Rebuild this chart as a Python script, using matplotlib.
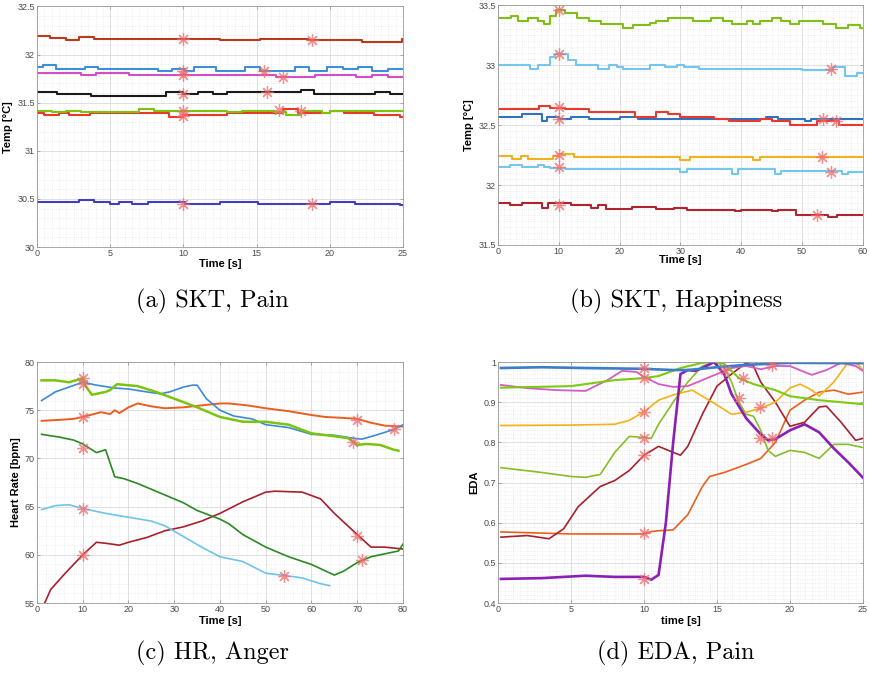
import matplotlib
matplotlib.use("Agg")
import matplotlib.pyplot as plt
from matplotlib.ticker import AutoMinorLocator, MultipleLocator, FuncFormatter

plt.rcParams['font.family'] = ['Liberation Sans', 'DejaVu Sans']

# ---------------- (a) SKT, Pain : step-like traces (change time, level)
a_brown_t = [0, 0.9, 2.0, 2.9, 3.9, 12.5, 15.2, 18.5, 22.2, 24.9, 25]
a_brown_v = [32.19, 32.17, 32.15, 32.185, 32.165, 32.155, 32.165, 32.15, 32.13, 32.16, 32.16]
a_blue_t = [0, 0.4, 1.3, 3.3, 4.2, 8.3, 9.2, 10.1, 10.7, 12.2, 14.2, 15.2, 17.6, 18.6, 19.8, 20.9, 21.9, 22.9, 24.0, 25]
a_blue_v = [31.87, 31.89, 31.85, 31.87, 31.85, 31.83, 31.85, 31.83, 31.87, 31.83, 31.87, 31.83, 31.87,
            31.83, 31.87, 31.85, 31.87, 31.83, 31.85, 31.85]
a_mag_t = [0, 3.0, 4.0, 6.3, 16.3, 19.0, 21.8, 22.9, 24.0, 25]
a_mag_v = [31.81, 31.79, 31.81, 31.79, 31.77, 31.79, 31.77, 31.79, 31.77, 31.77]
a_black_t = [0, 1.4, 3.7, 8.8, 10.0, 11.0, 12.0, 13.0, 18.0, 18.9, 23.1, 24.1, 25]
a_black_v = [31.61, 31.59, 31.57, 31.61, 31.59, 31.61, 31.59, 31.61, 31.63, 31.59, 31.61, 31.59, 31.59]
a_green_t = [0, 1.0, 2.0, 3.0, 7.0, 8.0, 13.0, 14.0, 16.2, 17.0, 18.0, 19.5, 20.0, 25]
a_green_v = [31.41, 31.40, 31.41, 31.40, 31.43, 31.41, 31.40, 31.41, 31.40, 31.37, 31.41, 31.39, 31.41, 31.41]
a_red_t = [0, 0.5, 1.5, 2.2, 3.6, 9.0, 10.0, 13.0, 16.8, 17.8, 20.0, 21.0, 23.0, 24.8, 25]
a_red_v = [31.39, 31.37, 31.39, 31.37, 31.39, 31.35, 31.37, 31.39, 31.43, 31.39, 31.41, 31.39, 31.37, 31.35, 31.35]
a_dblue_t = [0, 2.9, 3.9, 5.0, 5.6, 6.5, 7.6, 10.1, 12.5, 15.1, 20.0, 21.7, 24.8, 25]
a_dblue_v = [30.47, 30.485, 30.465, 30.45, 30.465, 30.45, 30.465, 30.45, 30.465, 30.45, 30.465, 30.45, 30.435, 30.435]
a_mark_x = [10, 10, 10, 10, 10, 10, 10, 18.8, 18.8, 15.5, 16.8, 15.7, 16.5, 18.0]
a_mark_y = [32.16, 31.83, 31.79, 31.59, 31.41, 31.36, 30.45, 32.15, 30.45, 31.83, 31.77, 31.61, 31.42, 31.41]

# ---------------- (b) SKT, Happiness
b_green_t = [0, 2.2, 3.3, 5.0, 6.5, 7.5, 8.5, 9.5, 11.0, 13.0, 15.0, 17.0, 20.5, 22.2, 25.0, 26.0, 28.0, 32.0,
             35.0, 37.0, 38.5, 41.0, 42.0, 43.0, 45.0, 46.5, 48.0, 49.5, 53.5, 55.5, 57.5, 59.5, 60]
b_green_v = [33.39, 33.41, 33.37, 33.39, 33.37, 33.34, 33.41, 33.46, 33.43, 33.39, 33.37, 33.34, 33.31, 33.33,
             33.35, 33.37, 33.39, 33.37, 33.39, 33.37, 33.34, 33.37, 33.34, 33.37, 33.39, 33.37, 33.34, 33.37,
             33.34, 33.31, 33.33, 33.31, 33.31]
b_lblue1_t = [0, 5.3, 6.5, 8.5, 9.3, 11.5, 12.8, 16.5, 18.3, 19.5, 20.5, 25.0, 27.5, 29.5, 30.5, 33.0, 39.0,
              50.0, 55.0, 57.0, 59.0, 60]
b_lblue1_v = [33.0, 32.97, 33.0, 33.07, 33.09, 33.04, 33.0, 32.97, 33.0, 32.98, 32.97, 33.0, 32.98, 33.0,
              32.98, 32.97, 32.97, 32.96, 32.98, 32.91, 32.93, 32.93]
b_red_t = [0, 6.8, 8.5, 11.0, 15.0, 22.5, 26.0, 28.0, 30.0, 35.5, 38.0, 43.0, 45.0, 48.0, 52.5, 56.0, 60]
b_red_v = [32.63, 32.66, 32.645, 32.63, 32.61, 32.57, 32.61, 32.59, 32.57, 32.55, 32.53, 32.55, 32.53,
           32.50, 32.53, 32.50, 32.50]
b_blue_t = [0, 4.0, 7.3, 8.0, 10.0, 12.0, 15.0, 20.0, 23.0, 40.0, 44.0, 46.0, 50.5, 51.5, 60]
b_blue_v = [32.57, 32.59, 32.53, 32.57, 32.55, 32.57, 32.55, 32.57, 32.55, 32.55, 32.57, 32.55, 32.53, 32.55, 32.55]
b_yellow_t = [0, 2.3, 3.8, 5.0, 9.0, 10.0, 12.5, 30.0, 31.5, 42.0, 43.0, 60]
b_yellow_v = [32.24, 32.22, 32.24, 32.22, 32.24, 32.26, 32.23, 32.21, 32.23, 32.21, 32.23, 32.23]
b_lblue2_t = [0, 2.0, 4.0, 6.5, 7.5, 8.5, 11.0, 30.0, 31.0, 38.5, 39.5, 45.5, 46.5, 56.5, 57.5, 60]
b_lblue2_v = [32.15, 32.17, 32.15, 32.17, 32.15, 32.14, 32.13, 32.11, 32.13, 32.09, 32.13, 32.09, 32.12,
              32.09, 32.11, 32.11]
b_dred_t = [0, 2.0, 4.0, 7.3, 8.3, 12.0, 15.3, 16.5, 17.8, 22.0, 26.0, 29.0, 31.0, 39.0, 40.0, 45.0, 46.0,
            49.0, 54.3, 55.7, 60]
b_dred_v = [31.85, 31.83, 31.85, 31.81, 31.85, 31.83, 31.81, 31.83, 31.80, 31.82, 31.80, 31.81, 31.79, 31.78,
            31.79, 31.78, 31.79, 31.75, 31.73, 31.75, 31.75]
b_mark_x = [10, 10, 54.7, 10, 10, 53.5, 55.5, 10, 53.2, 10, 54.7, 10, 52.5]
b_mark_y = [33.46, 33.09, 32.97, 32.65, 32.55, 32.55, 32.53, 32.25, 32.23, 32.15, 32.11, 31.83, 31.75]

# ---------------- (c) HR, Anger
c_blue_t = [1, 4, 7, 10, 13, 17, 20, 24, 27, 29, 32, 34, 35, 37, 40, 43, 47, 50, 55, 60, 65, 69, 71, 74, 78, 80]
c_blue_v = [76.0, 76.9, 77.4, 77.9, 77.6, 77.3, 77.2, 76.9, 76.7, 76.9, 77.4, 77.6, 77.6, 76.2, 75.0, 74.4,
            74.1, 73.5, 73.2, 72.5, 72.4, 72.1, 72.0, 72.4, 73.0, 73.5]
c_lime_t = [1, 4, 7, 10, 10.5, 12, 15, 16, 17.5, 22, 26, 30, 35, 40, 45, 50, 55, 60, 65, 68, 70, 72, 75, 78, 79]
c_lime_v = [78.1, 78.1, 77.9, 78.3, 77.6, 76.6, 76.9, 77.1, 77.7, 77.5, 76.9, 76.2, 75.3, 74.3, 73.8, 73.8,
            73.5, 72.6, 72.3, 72.1, 71.4, 71.5, 71.4, 70.9, 70.8]
c_orange_t = [1, 5, 8, 10, 14, 16, 17, 18, 20, 22, 25, 28, 32, 36, 40, 42, 46, 50, 55, 60, 63, 67, 70, 73, 76, 80]
c_orange_v = [73.9, 74.0, 74.1, 74.3, 74.8, 74.6, 75.0, 74.7, 75.3, 75.7, 75.4, 75.2, 75.3, 75.5, 75.7, 75.7,
              75.5, 75.2, 74.9, 74.5, 74.3, 74.2, 74.1, 73.7, 73.4, 73.3]
c_dgreen_t = [1, 5, 8, 10, 13, 15, 17, 19, 22, 25, 28, 32, 35, 40, 42, 45, 50, 55, 60, 65, 67, 70, 73, 76, 79, 80]
c_dgreen_v = [72.5, 72.2, 71.9, 71.5, 70.6, 70.9, 68.1, 67.9, 67.4, 66.8, 66.2, 65.4, 64.6, 63.7, 63.2, 62.1,
              60.8, 59.8, 59.0, 57.9, 58.3, 59.2, 59.8, 60.1, 60.4, 61.1]
c_dred_t = [1.5, 3, 6, 10, 13, 15, 18, 20, 24, 28, 32, 36, 40, 45, 50, 52, 58, 62, 65, 70, 73, 76, 80]
c_dred_v = [54.8, 56.4, 58.0, 60.0, 61.3, 61.2, 61.0, 61.3, 61.8, 62.5, 62.9, 63.5, 64.3, 65.5, 66.5, 66.6,
            66.5, 65.8, 64.3, 62.1, 60.8, 60.8, 60.6]
c_lblue_t = [1, 4, 7, 10, 15, 20, 25, 28, 32, 36, 40, 45, 50, 55, 58, 62, 64]
c_lblue_v = [64.7, 65.1, 65.2, 64.8, 64.3, 63.9, 63.5, 63.0, 61.9, 60.8, 59.8, 59.3, 58.1, 57.8, 57.6, 57.0, 56.8]
c_mark_x = [10, 10, 10, 10, 10, 10, 54, 69, 70, 70, 71, 78]
c_mark_y = [78.3, 77.7, 74.3, 71.1, 64.8, 60.0, 57.8, 71.7, 74.0, 62.0, 59.5, 73.1]

# ---------------- (d) EDA, Pain
d_blue_t = [0.2, 3, 6, 10, 12, 13, 15, 17, 20, 25]
d_blue_v = [0.985, 0.987, 0.985, 0.983, 0.98, 0.98, 0.987, 0.993, 0.998, 0.997]
d_mag_t = [0.2, 2, 4, 6, 7.5, 8.5, 9.5, 10, 11, 12, 13, 14, 15, 16, 17, 18, 19, 20, 21, 21.5, 22.5, 23.5, 24.5, 25]
d_mag_v = [0.943, 0.935, 0.93, 0.928, 0.955, 0.978, 0.975, 0.963, 0.945, 0.938, 0.94, 0.955, 0.97, 0.985, 0.99,
           0.982, 0.99, 0.99, 0.975, 0.968, 0.98, 0.998, 0.99, 0.978]
d_lime_t = [0.2, 5, 8, 10, 11, 12.5, 14, 15, 15.5, 16.5, 17.5, 19, 20, 22, 25]
d_lime_v = [0.936, 0.94, 0.955, 0.96, 0.965, 0.985, 0.998, 1.0, 0.995, 0.96, 0.945, 0.93, 0.915, 0.905, 0.895]
d_yellow_t = [0.2, 5, 8, 9, 10, 11, 12, 13.3, 14, 15, 16, 17, 18, 19, 20, 20.7, 21.5, 22, 23, 24, 24.5, 25]
d_yellow_v = [0.842, 0.843, 0.845, 0.855, 0.876, 0.905, 0.918, 0.93, 0.915, 0.893, 0.87, 0.875, 0.885, 0.9,
              0.935, 0.945, 0.93, 0.915, 0.95, 1.0, 1.0, 0.98]
d_olive_t = [0.2, 3, 5, 6, 7, 8, 9, 10, 10.5, 11, 12, 13, 14, 15, 15.5, 16, 16.5, 17, 17.5, 18, 18.5, 19, 20,
             21, 22, 23, 24, 25]
d_olive_v = [0.737, 0.725, 0.715, 0.713, 0.72, 0.775, 0.815, 0.812, 0.81, 0.845, 0.9, 0.95, 0.99, 1.0, 0.985,
             0.95, 0.9, 0.87, 0.865, 0.83, 0.78, 0.765, 0.78, 0.775, 0.76, 0.795, 0.795, 0.787]
d_crimson_t = [0.2, 2, 3.5, 4.5, 5.5, 7, 8, 9, 10, 11, 12, 12.5, 13, 14, 15, 16, 17, 17.5, 18, 19, 20, 21, 22,
               22.5, 23.5, 24.5, 25]
d_crimson_v = [0.564, 0.568, 0.56, 0.585, 0.64, 0.69, 0.705, 0.73, 0.768, 0.79, 0.775, 0.768, 0.79, 0.87, 0.94,
               0.97, 0.998, 0.99, 0.95, 0.9, 0.84, 0.85, 0.888, 0.89, 0.85, 0.805, 0.81]
d_orange_t = [0.2, 5, 10, 10.5, 11, 12, 13, 14, 14.5, 15.5, 17, 18, 19, 20, 21, 22, 23, 24, 25]
d_orange_v = [0.577, 0.572, 0.572, 0.578, 0.58, 0.582, 0.62, 0.69, 0.715, 0.725, 0.745, 0.76, 0.8, 0.88,
              0.905, 0.925, 0.93, 0.92, 0.925]
d_purple_t = [0.2, 3, 6, 8, 10, 10.5, 11, 11.5, 12, 12.5, 13, 13.5, 14, 14.8, 15.5, 16, 17, 18, 18.5, 19, 20,
              21, 22, 23, 24, 25]
d_purple_v = [0.46, 0.462, 0.468, 0.465, 0.465, 0.458, 0.47, 0.6, 0.8, 0.97, 0.98, 0.978, 0.985, 1.0, 0.97,
              0.92, 0.86, 0.82, 0.805, 0.808, 0.83, 0.845, 0.825, 0.785, 0.75, 0.712]
d_mark_x = [10, 10, 10, 10, 10, 10, 10, 15.55, 16.76, 16.5, 17.95, 17.95, 18.75, 18.75]
d_mark_y = [0.985, 0.96, 0.875, 0.812, 0.768, 0.575, 0.46, 0.98, 0.961, 0.91, 0.889, 0.81, 0.81, 0.993]

MARK = dict(marker=(8, 2, 0), ms=9, mew=0.9, mec='#F26B6B', ls='none', alpha=0.75, zorder=5)
TICK_FS = 6.5
LAB_FS = 8


def style_axes(ax, xmaj, xmin_n, ymaj, ymin_n):
    ax.xaxis.set_major_locator(MultipleLocator(xmaj))
    ax.yaxis.set_major_locator(MultipleLocator(ymaj))
    ax.xaxis.set_minor_locator(AutoMinorLocator(xmin_n))
    ax.yaxis.set_minor_locator(AutoMinorLocator(ymin_n))
    # matlab-style tick labels: 32 instead of 32.0
    fmt = FuncFormatter(lambda v, p: f'{round(v, 6):g}')
    ax.xaxis.set_major_formatter(fmt)
    ax.yaxis.set_major_formatter(fmt)
    ax.grid(which='major', color='#DADADA', lw=0.6)
    ax.grid(which='minor', color='#E4E4E4', lw=0.5, ls=':')
    ax.set_axisbelow(True)
    ax.tick_params(which='both', direction='in', top=True, right=True, labelsize=TICK_FS,
                   colors='#8A8A8A', labelcolor='#4A4A4A', pad=1.5)
    ax.tick_params(which='major', length=2.5, width=0.5)
    ax.tick_params(which='minor', length=0)
    for s in ax.spines.values():
        s.set_color('#9A9A9A')
        s.set_linewidth(0.6)


fig = plt.figure(figsize=(8.7, 6.74), dpi=100)
ax_a = fig.add_axes([0.0425, 0.6335, 0.4207, 0.357])
ax_b = fig.add_axes([0.5724, 0.6365, 0.4195, 0.356])
ax_c = fig.add_axes([0.0425, 0.1053, 0.4207, 0.3576])
ax_d = fig.add_axes([0.5724, 0.1053, 0.4195, 0.3576])

# (a)
for t, v, col in [(a_brown_t, a_brown_v, '#B93A1E'), (a_blue_t, a_blue_v, '#3D8FD8'),
                  (a_mag_t, a_mag_v, '#D04FC4'), (a_black_t, a_black_v, '#1A1A1A'),
                  (a_red_t, a_red_v, '#E8392A'), (a_green_t, a_green_v, '#7BC40E'),
                  (a_dblue_t, a_dblue_v, '#3E3EBE')]:
    ax_a.plot(t, v, drawstyle='steps-post', color=col, lw=1.5)
ax_a.plot(a_mark_x, a_mark_y, **MARK)
ax_a.set_xlim(0, 25)
ax_a.set_ylim(30, 32.5)
style_axes(ax_a, 5, 10, 0.5, 5)
ax_a.set_xlabel('Time [s]', fontsize=LAB_FS, fontweight='bold', labelpad=1)
ax_a.set_ylabel('Temp [°C]', fontsize=LAB_FS, fontweight='bold', labelpad=3)

# (b)
for t, v, col in [(b_green_t, b_green_v, '#80BF14'), (b_lblue1_t, b_lblue1_v, '#74C6EC'),
                  (b_blue_t, b_blue_v, '#2F72C0'), (b_red_t, b_red_v, '#E83A2C'),
                  (b_yellow_t, b_yellow_v, '#F0B21E'), (b_lblue2_t, b_lblue2_v, '#74C6EC'),
                  (b_dred_t, b_dred_v, '#B0242E')]:
    ax_b.plot(t, v, drawstyle='steps-post', color=col, lw=1.5)
ax_b.plot(b_mark_x, b_mark_y, **MARK)
ax_b.set_xlim(0, 60)
ax_b.set_ylim(31.5, 33.5)
style_axes(ax_b, 10, 10, 0.5, 10)
ax_b.set_xlabel('Time [s]', fontsize=LAB_FS, fontweight='bold', labelpad=-1)
ax_b.set_ylabel('Temp [°C]', fontsize=LAB_FS, fontweight='bold', labelpad=3)

# (c)
for t, v, col, lw in [(c_dred_t, c_dred_v, '#A8202C', 1.2), (c_lblue_t, c_lblue_v, '#6EC3EC', 1.2),
                      (c_dgreen_t, c_dgreen_v, '#2A8A22', 1.2), (c_orange_t, c_orange_v, '#EC5E1E', 1.4),
                      (c_blue_t, c_blue_v, '#3C8AD6', 1.2), (c_lime_t, c_lime_v, '#7BC40E', 1.8)]:
    ax_c.plot(t, v, color=col, lw=lw)
ax_c.plot(c_mark_x, c_mark_y, **MARK)
ax_c.set_xlim(0, 80)
ax_c.set_ylim(55, 80)
style_axes(ax_c, 10, 5, 5, 5)
ax_c.set_xlabel('Time [s]', fontsize=LAB_FS, fontweight='bold', labelpad=1)
ax_c.set_ylabel('Heart Rate [bpm]', fontsize=LAB_FS, fontweight='bold', labelpad=3)

# (d)
for t, v, col, lw in [(d_orange_t, d_orange_v, '#EC5E1E', 1.2), (d_crimson_t, d_crimson_v, '#A8202C', 1.2),
                      (d_olive_t, d_olive_v, '#86BE2A', 1.2), (d_yellow_t, d_yellow_v, '#F3B216', 1.2),
                      (d_mag_t, d_mag_v, '#D45CC6', 1.3), (d_lime_t, d_lime_v, '#7CCB12', 1.5),
                      (d_purple_t, d_purple_v, '#8A1FB5', 1.9), (d_blue_t, d_blue_v, '#3A7DC8', 1.9)]:
    ax_d.plot(t, v, color=col, lw=lw)
ax_d.plot(d_mark_x, d_mark_y, **MARK)
ax_d.set_xlim(0, 25)
ax_d.set_ylim(0.4, 1.0)
style_axes(ax_d, 5, 10, 0.1, 10)
ax_d.set_xlabel('time [s]', fontsize=LAB_FS, fontweight='bold', labelpad=1)
ax_d.set_ylabel('EDA', fontsize=LAB_FS, fontweight='bold', labelpad=3)

# sub-figure captions
cap = dict(fontsize=17.5, family='cmr10', ha='center', va='center')
fig.text(0.2437, 1 - 301 / 674, '(a) SKT, Pain', **cap)
fig.text(0.777, 1 - 301 / 674, '(b) SKT, Happiness', **cap)
fig.text(0.2437, 1 - 653 / 674, '(c) HR, Anger', **cap)
fig.text(0.777, 1 - 653 / 674, '(d) EDA, Pain', **cap)

fig.savefig('out.png', dpi=100)
